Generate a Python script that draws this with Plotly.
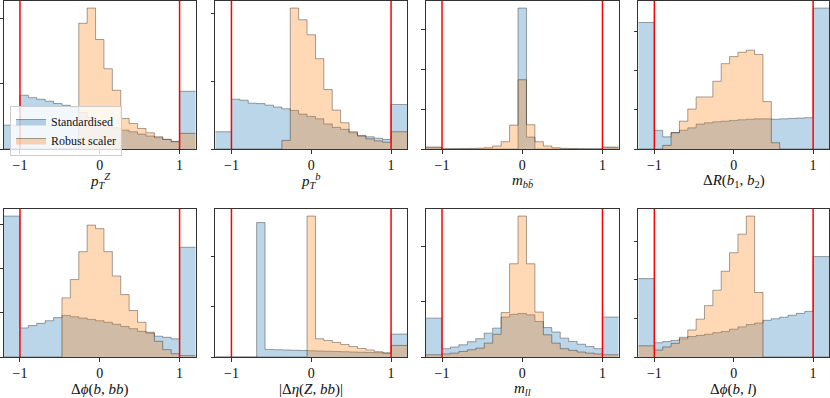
import numpy as np
import plotly.graph_objects as go

# Bin edges: underflow bin, 19 bins in [-1, 1], overflow bin
EDGES = [-1.25] + list(np.linspace(-1.0, 1.0, 20)) + [1.25]

LABELS = [
    "<i>p</i><sub><i>T</i></sub><sup><i>Z</i></sup>",
    "<i>p</i><sub><i>T</i></sub><sup><i>b</i></sup>",
    "<i>m</i><sub><i>bb̄</i></sub>",
    "Δ<i>R</i>(<i>b</i><sub>1</sub>, <i>b</i><sub>2</sub>)",
    "Δ<i>ϕ</i>(<i>b</i>, <i>bb</i>)",
    "|Δ<i>η</i>(<i>Z</i>, <i>bb</i>)|",
    "<i>m</i><sub><i>ll</i></sub>",
    "Δ<i>ϕ</i>(<i>b</i>, <i>l</i>)",
]
TICK_VALS = [-1, 0, 1]
TICK_TEXT = ["−1", "0", "1"]
SERIES_NAMES = ["Standardised", "Robust scaler"]

# heights: [underflow, 19 bins, overflow]
PTZ_STD = [0.367, 0.827, 0.79, 0.765, 0.735, 0.70, 0.673, 0.64, 0.56, 0.48, 0.41, 0.342, 0.327,
           0.29, 0.265, 0.23, 0.2, 0.173, 0.148, 0.117, 0.888]
PTZ_ROB = [0, 0, 0, 0, 0, 0, 0, 0, 1.934, 2.168, 1.684, 1.235, 0.903, 0.469, 0.393, 0.316,
           0.25, 0.189, 0.148, 0.112, 0.24]

PTB_STD = [0.255, 0.735, 0.72, 0.676, 0.67, 0.647, 0.62, 0.593, 0.569, 0.515, 0.48, 0.446, 0.37,
           0.32, 0.29, 0.24, 0.2, 0.18, 0.16, 0.14, 0.657]
PTB_ROB = [0, 0, 0, 0, 0, 0, 0, 0.127, 2.08, 1.907, 1.686, 1.333, 0.877, 0.574, 0.387, 0.255,
           0.19, 0.15, 0.12, 0.1, 0.255]

MBB_STD = [0.03, 0, 0, 0, 0, 0, 0, 0, 0, 0, 3.54, 0.3, 0, 0, 0, 0, 0, 0, 0, 0, 0.03]
MBB_ROB = [0.05, 0.005, 0.008, 0.01, 0.015, 0.02, 0.033, 0.075, 0.183, 0.6, 1.74, 0.61, 0.183,
           0.075, 0.033, 0.017, 0.012, 0.008, 0.006, 0.005, 0.05]

DRBB_STD = [3.23, 0.475, 0.31, 0.42, 0.48, 0.54, 0.636, 0.67, 0.695, 0.71, 0.73, 0.746, 0.76,
            0.77, 0.77, 0.76, 0.77, 0.78, 0.79, 0.8, 3.6]
DRBB_ROB = [0, 0, 0.093, 0.415, 0.71, 1.02, 1.33, 1.33, 1.73, 2.18, 2.36, 2.47, 2.525, 2.415,
            1.21, 0.16, 0, 0, 0, 0, 0]

DPHIBBB_STD = [3.185, 0.657, 0.71, 0.76, 0.82, 0.89, 0.94, 0.91, 0.88, 0.85, 0.82, 0.785, 0.74,
               0.69, 0.64, 0.58, 0.54, 0.47, 0.445, 0.41, 2.48]
DPHIBBB_ROB = [0, 0, 0, 0, 0, 0, 1.336, 1.75, 2.38, 2.98, 2.9, 2.38, 1.83, 1.41, 1.05, 0.785,
               0.56, 0.355, 0.166, 0.075, 0.03]

DETA_STD = [0, 0, 0, 0, 2.68, 0.15, 0.145, 0.14, 0.135, 0.13, 0.125, 0.12, 0.115, 0.11, 0.105,
            0.1, 0.095, 0.09, 0.085, 0.08, 0.457]
DETA_ROB = [0, 0, 0, 0, 0, 0, 0, 0, 0, 0, 2.81, 0.364, 0.33, 0.29, 0.25, 0.21, 0.17, 0.14,
            0.106, 0.08, 0.23]

MLL_STD = [0.70, 0.15, 0.18, 0.22, 0.275, 0.33, 0.43, 0.52, 0.72, 0.77, 0.785, 0.76, 0.64, 0.53,
           0.45, 0.34, 0.28, 0.23, 0.19, 0.15, 0.72]
MLL_ROB = [0.04, 0.055, 0.07, 0.1, 0.13, 0.16, 0.25, 0.41, 0.8, 1.68, 2.54, 1.68, 0.81, 0.4,
           0.25, 0.15, 0.12, 0.09, 0.07, 0.055, 0.04]

DPHIBL_STD = [2.03, 0.37, 0.4, 0.43, 0.47, 0.53, 0.56, 0.59, 0.63, 0.66, 0.72, 0.78, 0.84, 0.88,
              0.95, 0.99, 1.03, 1.08, 1.13, 1.18, 2.6]
DPHIBL_ROB = [0.29, 0.18, 0.26, 0.353, 0.51, 0.7, 0.98, 1.33, 1.73, 2.22, 2.7, 3.18, 3.65, 1.67,
              0, 0, 0, 0, 0, 0, 0]

PANELS = [
    (PTZ_STD, PTZ_ROB), (PTB_STD, PTB_ROB), (MBB_STD, MBB_ROB), (DRBB_STD, DRBB_ROB),
    (DPHIBBB_STD, DPHIBBB_ROB), (DETA_STD, DETA_ROB), (MLL_STD, MLL_ROB), (DPHIBL_STD, DPHIBL_ROB),
]

W, H = 830, 398
COL_PX = [(2, 194), (214, 406), (425, 618), (638, 829)]
ROW_PX = [(1, 149), (209, 357)]

FILLS = ["rgba(31,119,180,0.3)", "rgba(255,127,14,0.3)"]
EDGE = "rgba(0,0,0,0.35)"
AX = "#333333"
FONT = "Liberation Serif"

fig = go.Figure()
layout = {}
shapes = []
annotations = []

for i, (std, rob) in enumerate(PANELS):
    r, c = divmod(i, 4)
    n = "" if i == 0 else str(i + 1)
    xa, ya = "x" + n, "y" + n
    for j, h in enumerate([std, rob]):
        xs = [EDGES[0]] + list(EDGES)
        ys = [0] + list(h) + [0]
        fig.add_trace(go.Scatter(
            x=xs, y=ys, xaxis=xa, yaxis=ya, mode="lines",
            line=dict(shape="hv", color=EDGE, width=1),
            fill="tozeroy", fillcolor=FILLS[j],
            name=SERIES_NAMES[j],
            showlegend=(i == 0), hoverinfo="skip",
        ))
    ymax = 1.05 * max(max(std), max(rob))
    x0, x1 = COL_PX[c]
    y0, y1 = ROW_PX[r]
    layout["xaxis" + n] = dict(
        domain=[x0 / W, x1 / W], range=[-1.2, 1.2], anchor=ya,
        tickvals=TICK_VALS, ticktext=TICK_TEXT, ticks="outside", ticklen=3.5,
        tickcolor=AX, showline=True, linecolor=AX, linewidth=1, mirror=True,
        showgrid=False, zeroline=False, tickfont=dict(family=FONT, size=14, color="#111"),
    )
    layout["yaxis" + n] = dict(
        domain=[1 - y1 / H, 1 - y0 / H], range=[0, ymax], anchor=xa,
        tick0=0, dtick=1, ticks="outside", ticklen=3.5, tickcolor=AX,
        showticklabels=False, showline=True, linecolor=AX, linewidth=1, mirror=True,
        showgrid=False, zeroline=False,
    )
    for xv in (-1, 1):
        shapes.append(dict(type="line", xref=xa, yref=ya + " domain", x0=xv, x1=xv,
                           y0=0, y1=1, line=dict(color="red", width=1.5), layer="above"))
    annotations.append(dict(
        text=LABELS[i], xref=xa + " domain", yref=ya + " domain", x=0.5, y=0,
        xanchor="center", yanchor="middle", yshift=-32, showarrow=False,
        font=dict(family=FONT, size=15, color="#111"),
    ))

fig.update_layout(
    width=W, height=H, margin=dict(l=0, r=0, t=0, b=0),
    paper_bgcolor="white", plot_bgcolor="white",
    shapes=shapes, annotations=annotations,
    legend=dict(x=8 / W, y=1 - 106 / H, xanchor="left", yanchor="top",
                bgcolor="rgba(255,255,255,0.8)", bordercolor="#cccccc", borderwidth=1,
                font=dict(family=FONT, size=12, color="#111"), tracegroupgap=0,
                itemwidth=30),
    **layout,
)

fig.write_html("out.html", config={"displayModeBar": False},
               post_script="document.body.style.margin='0px';document.body.style.padding='0px';")
